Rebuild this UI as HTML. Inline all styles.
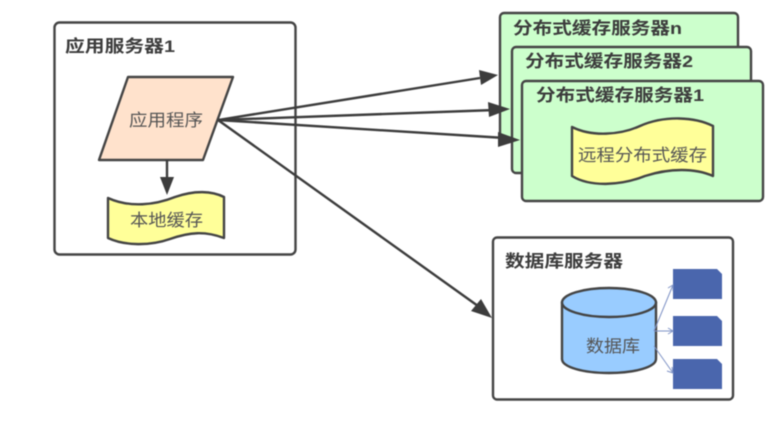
<!DOCTYPE html>
<html><head><meta charset="utf-8"><style>
html,body{margin:0;padding:0;background:#fff;width:781px;height:428px;overflow:hidden}
svg{display:block;filter:blur(.6px)}
text{font-family:"Liberation Sans","Noto Sans CJK SC",sans-serif;fill:#444}
.b{font-weight:700;font-size:17px;fill:#3c3c3c}
.n{font-size:17px;fill:#555}
</style></head><body>
<svg width="781" height="428" viewBox="0 0 781 428" xmlns="http://www.w3.org/2000/svg">
<g stroke="#444" stroke-width="2.4" stroke-linejoin="round">
<rect x="54.500" y="22.500" width="241" height="232" rx="5" fill="#fff"/>
<path d="M128 77H233L203 160H99Z" fill="#ffe2cc"/>
<path d="M108 198C130 208 155 205 175 197C195 190 212 191 224 197V238C205 231 190 232 170 239C150 246 125 246 108 238Z" fill="#ffff99"/>
<rect x="500" y="13" width="238" height="127" rx="4" fill="#ccffcc"/>
<rect x="512" y="47" width="239" height="126" rx="4" fill="#ccffcc"/>
<rect x="522" y="81" width="241" height="120" rx="4" fill="#ccffcc"/>
<path d="M572 127C592 137 620 135 640 126C665 115 695 117 713 126V176C695 168 670 168 645 176C620 186 590 187 572 176Z" fill="#ffff99"/>
<rect x="493" y="237.500" width="240" height="162" rx="4" fill="#fff"/>
<path d="M562 302V359C562 367 583 373 609 373S656 367 656 359V302" fill="#99ccff"/>
<ellipse cx="609" cy="302.500" rx="47" ry="14.500" fill="#99ccff"/>
</g>
<g fill="#4a66ad">
<path d="M673 269H717L722 274V299H673Z"/>
<path d="M673 316H717L722 321V346H673Z"/>
<path d="M673 359H717L722 364V389H673Z"/>
</g>
<g stroke="#7f93c6" stroke-width="1" fill="none">
<path d="M654 331L673 285M668 288L673 285L673 291"/>
<path d="M654 331H673M668 328L673 331L668 334"/>
<path d="M654 346L673 373M667 371L673 373L672 367"/>
</g>
<g stroke="#3c3c3c" stroke-width="2.400" fill="none">
<path d="M167 160V180"/>
<path d="M218 120L480 78"/>
<path d="M218 120L495 110"/>
<path d="M218 120L505 138"/>
<path d="M218 120L478 306"/>
</g>
<g fill="#3c3c3c">
<path d="M160 177H174L167 195Z"/>
<path d="M498 75L479 70L481 85Z"/>
<path d="M510 109L488 102L489 117Z"/>
<path d="M520 140L498 132L498 147Z"/>
<path d="M492 318L481 299L471 311Z"/>
</g>
<text class="b" x="65" y="52" textLength="110" lengthAdjust="spacingAndGlyphs">应用服务器1</text>
<text class="n" x="129" y="126" textLength="74" lengthAdjust="spacingAndGlyphs">应用程序</text>
<text class="n" x="130" y="226" textLength="73" lengthAdjust="spacingAndGlyphs">本地缓存</text>
<text class="b" x="513" y="34" textLength="169" lengthAdjust="spacingAndGlyphs">分布式缓存服务器n</text>
<text class="b" x="525" y="67" textLength="168" lengthAdjust="spacingAndGlyphs">分布式缓存服务器2</text>
<text class="b" x="536" y="101" textLength="168" lengthAdjust="spacingAndGlyphs">分布式缓存服务器1</text>
<text class="n" x="578" y="161" textLength="129" lengthAdjust="spacingAndGlyphs">远程分布式缓存</text>
<text class="b" x="505" y="267" textLength="118" lengthAdjust="spacingAndGlyphs">数据库服务器</text>
<text class="n" x="586" y="352" textLength="54" lengthAdjust="spacingAndGlyphs">数据库</text>
</svg>
</body></html>
